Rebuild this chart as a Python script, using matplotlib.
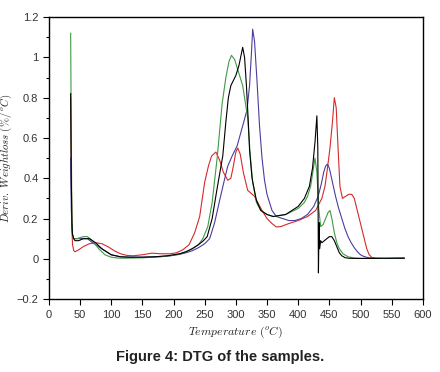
import matplotlib.pyplot as plt

plt.rcParams['mathtext.fontset'] = 'cm'

# Data (temperature in °C, derivative weight loss in %/°C)
green_t = [35, 36, 37, 38, 40, 45, 55, 62, 70, 80, 90, 100, 110, 120, 150, 180, 200, 210, 220,
           230, 240, 247, 255, 262, 270, 278, 284, 289, 293, 298, 303, 311, 319, 323, 327, 333,
           340, 350, 360, 380, 400, 410, 415, 420, 424, 427, 430, 433, 436, 440, 444, 448,
           451, 454, 458, 462, 466, 472, 480, 490, 500, 530, 570]
green_v = [1.12, 0.6, 0.2, 0.12, 0.1, 0.1, 0.11, 0.11, 0.09, 0.05, 0.02, 0.008, 0.004, 0.003,
           0.005, 0.01, 0.018, 0.025, 0.035, 0.05, 0.07, 0.1, 0.16, 0.28, 0.5, 0.77, 0.9, 0.98,
           1.01, 0.99, 0.94, 0.86, 0.7, 0.52, 0.38, 0.28, 0.24, 0.22, 0.21, 0.22, 0.25,
           0.28, 0.31, 0.36, 0.44, 0.5, 0.43, 0.25, 0.16, 0.17, 0.2, 0.23, 0.24, 0.2, 0.13,
           0.08, 0.05, 0.025, 0.01, 0.004, 0.002, 0.002, 0.003]

black_t = [35, 36, 37, 38, 40, 42, 48, 55, 65, 75, 85, 100, 115, 130, 150, 170, 190, 200, 210,
           220, 230, 240, 248, 254, 262, 270, 279, 284, 288, 292, 300, 305, 311, 314, 317, 320,
           322, 326, 333, 340, 350, 360, 380, 400, 410, 418, 423, 427, 430, 431.5, 432.5, 433.5,
           434.5, 436, 438, 442, 446, 450, 454, 458, 462, 466, 470, 475, 480, 490, 520, 570]
black_v = [0.82, 0.4, 0.18, 0.12, 0.1, 0.09, 0.09, 0.1, 0.1, 0.08, 0.05, 0.02, 0.01, 0.008,
           0.008, 0.01, 0.015, 0.02, 0.025, 0.035, 0.05, 0.07, 0.09, 0.11, 0.2, 0.35, 0.51, 0.68,
           0.8, 0.86, 0.91, 0.96, 1.05, 1.0, 0.86, 0.68, 0.54, 0.4, 0.29, 0.24, 0.22, 0.21, 0.22,
           0.26, 0.3, 0.36, 0.45, 0.58, 0.71, 0.55, -0.07, 0.18, 0.05, 0.09, 0.08, 0.09, 0.1,
           0.11, 0.11, 0.09, 0.06, 0.03, 0.015, 0.006, 0.003, 0.002, 0.002, 0.003]

blue_t = [35, 36, 37, 38, 40, 45, 55, 62, 70, 80, 90, 100, 115, 130, 150, 170, 190, 200, 210,
          220, 230, 240, 250, 258, 266, 274, 280, 287, 294, 302, 311, 318, 322, 325, 327, 330,
          334, 338, 342, 346, 350, 358, 365, 375, 385, 395, 405, 415, 425, 432, 437, 441, 444,
          447, 450, 455, 460, 465, 470, 475, 480, 485, 490, 495, 500, 505, 512, 520, 540, 570]
blue_v = [0.5, 0.25, 0.15, 0.12, 0.1, 0.1, 0.1, 0.1, 0.08, 0.06, 0.04, 0.02, 0.01, 0.008, 0.008,
          0.01, 0.013, 0.017, 0.022, 0.03, 0.04, 0.055, 0.075, 0.1, 0.18, 0.29, 0.37, 0.46, 0.51,
          0.56, 0.66, 0.74, 0.86, 1.02, 1.14, 1.08, 0.88, 0.66, 0.5, 0.39, 0.32, 0.24, 0.21,
          0.2, 0.19, 0.19, 0.2, 0.22, 0.26, 0.31, 0.37, 0.43, 0.46, 0.47, 0.45, 0.38, 0.31,
          0.25, 0.2, 0.15, 0.11, 0.08, 0.055, 0.035, 0.02, 0.012, 0.006, 0.003, 0.002, 0.003]

red_t = [35, 36, 37, 38, 40, 42, 48, 55, 65, 75, 85, 95, 105, 115, 125, 135, 150, 165, 180,
         195, 205, 215, 225, 234, 242, 250, 256, 261, 268, 274, 280, 287, 292, 296, 300,
         303, 307, 312, 319, 330, 342, 350, 358, 365, 372, 385, 400, 415, 428, 438,
         443, 447, 451, 455, 458, 461, 464, 467, 471, 476, 481, 486, 490, 494, 498, 502, 506,
         510, 514, 518, 525, 540, 570]
red_v = [0.8, 0.4, 0.15, 0.07, 0.04, 0.035, 0.045, 0.06, 0.075, 0.08, 0.075, 0.06, 0.04, 0.025,
         0.017, 0.015, 0.02, 0.028, 0.025, 0.025, 0.03, 0.045, 0.07, 0.13, 0.21, 0.38, 0.46,
         0.51, 0.53, 0.49, 0.43, 0.39, 0.4, 0.46, 0.53, 0.55, 0.52, 0.43, 0.34, 0.31, 0.24,
         0.2, 0.175, 0.158, 0.16, 0.175, 0.19, 0.21, 0.24, 0.3, 0.36, 0.45, 0.55, 0.68,
         0.8, 0.75, 0.55, 0.36, 0.3, 0.31, 0.32, 0.32, 0.3, 0.25, 0.2, 0.15, 0.1, 0.05, 0.02,
         0.007, 0.003, 0.002, 0.003]

fig = plt.figure(figsize=(4.4, 3.72), dpi=100)
ax = fig.add_axes([0.111, 0.196, 0.85, 0.758])

lw = 0.8
ax.plot(red_t, red_v, color='#d42a2a', linewidth=lw)
ax.plot(blue_t, blue_v, color='#4d3c9e', linewidth=lw)
ax.plot(green_t, green_v, color='#3f9a45', linewidth=lw)
ax.plot(black_t, black_v, color='black', linewidth=lw)

ax.set_xlim(0, 600)
ax.set_ylim(-0.2, 1.2)
ax.set_xticks(range(0, 601, 50))
ax.set_yticks([-0.2, 0, 0.2, 0.4, 0.6, 0.8, 1, 1.2])
ax.set_yticklabels(['\u22120.2', '0', '0.2', '0.4', '0.6', '0.8', '1', '1.2'])
ax.set_yticks([-0.1, 0.1, 0.3, 0.5, 0.7, 0.9, 1.1], minor=True)
ax.tick_params(axis='both', which='major', labelsize=8, length=4, width=0.8,
               labelcolor='#333333')
ax.tick_params(axis='y', which='minor', length=2.5, width=0.8)
for tl in ax.get_xticklabels() + ax.get_yticklabels():
    tl.set_family('Liberation Sans')
for s in ax.spines.values():
    s.set_linewidth(1.0)

ax.set_xlabel(r'$Temperature\ (^oC)$', fontsize=8.5, color='#222222', labelpad=4)
ax.set_ylabel(r'$Deriv.\ Weightloss\ (\%/^oC)$', fontsize=7.8, color='#222222', labelpad=2)

fig.text(0.5, 0.04, 'Figure 4: DTG of the samples.', ha='center', va='center',
         fontsize=10.5, fontweight='bold', family='Liberation Sans', color='#222222')

fig.savefig('out.png', dpi=100)
